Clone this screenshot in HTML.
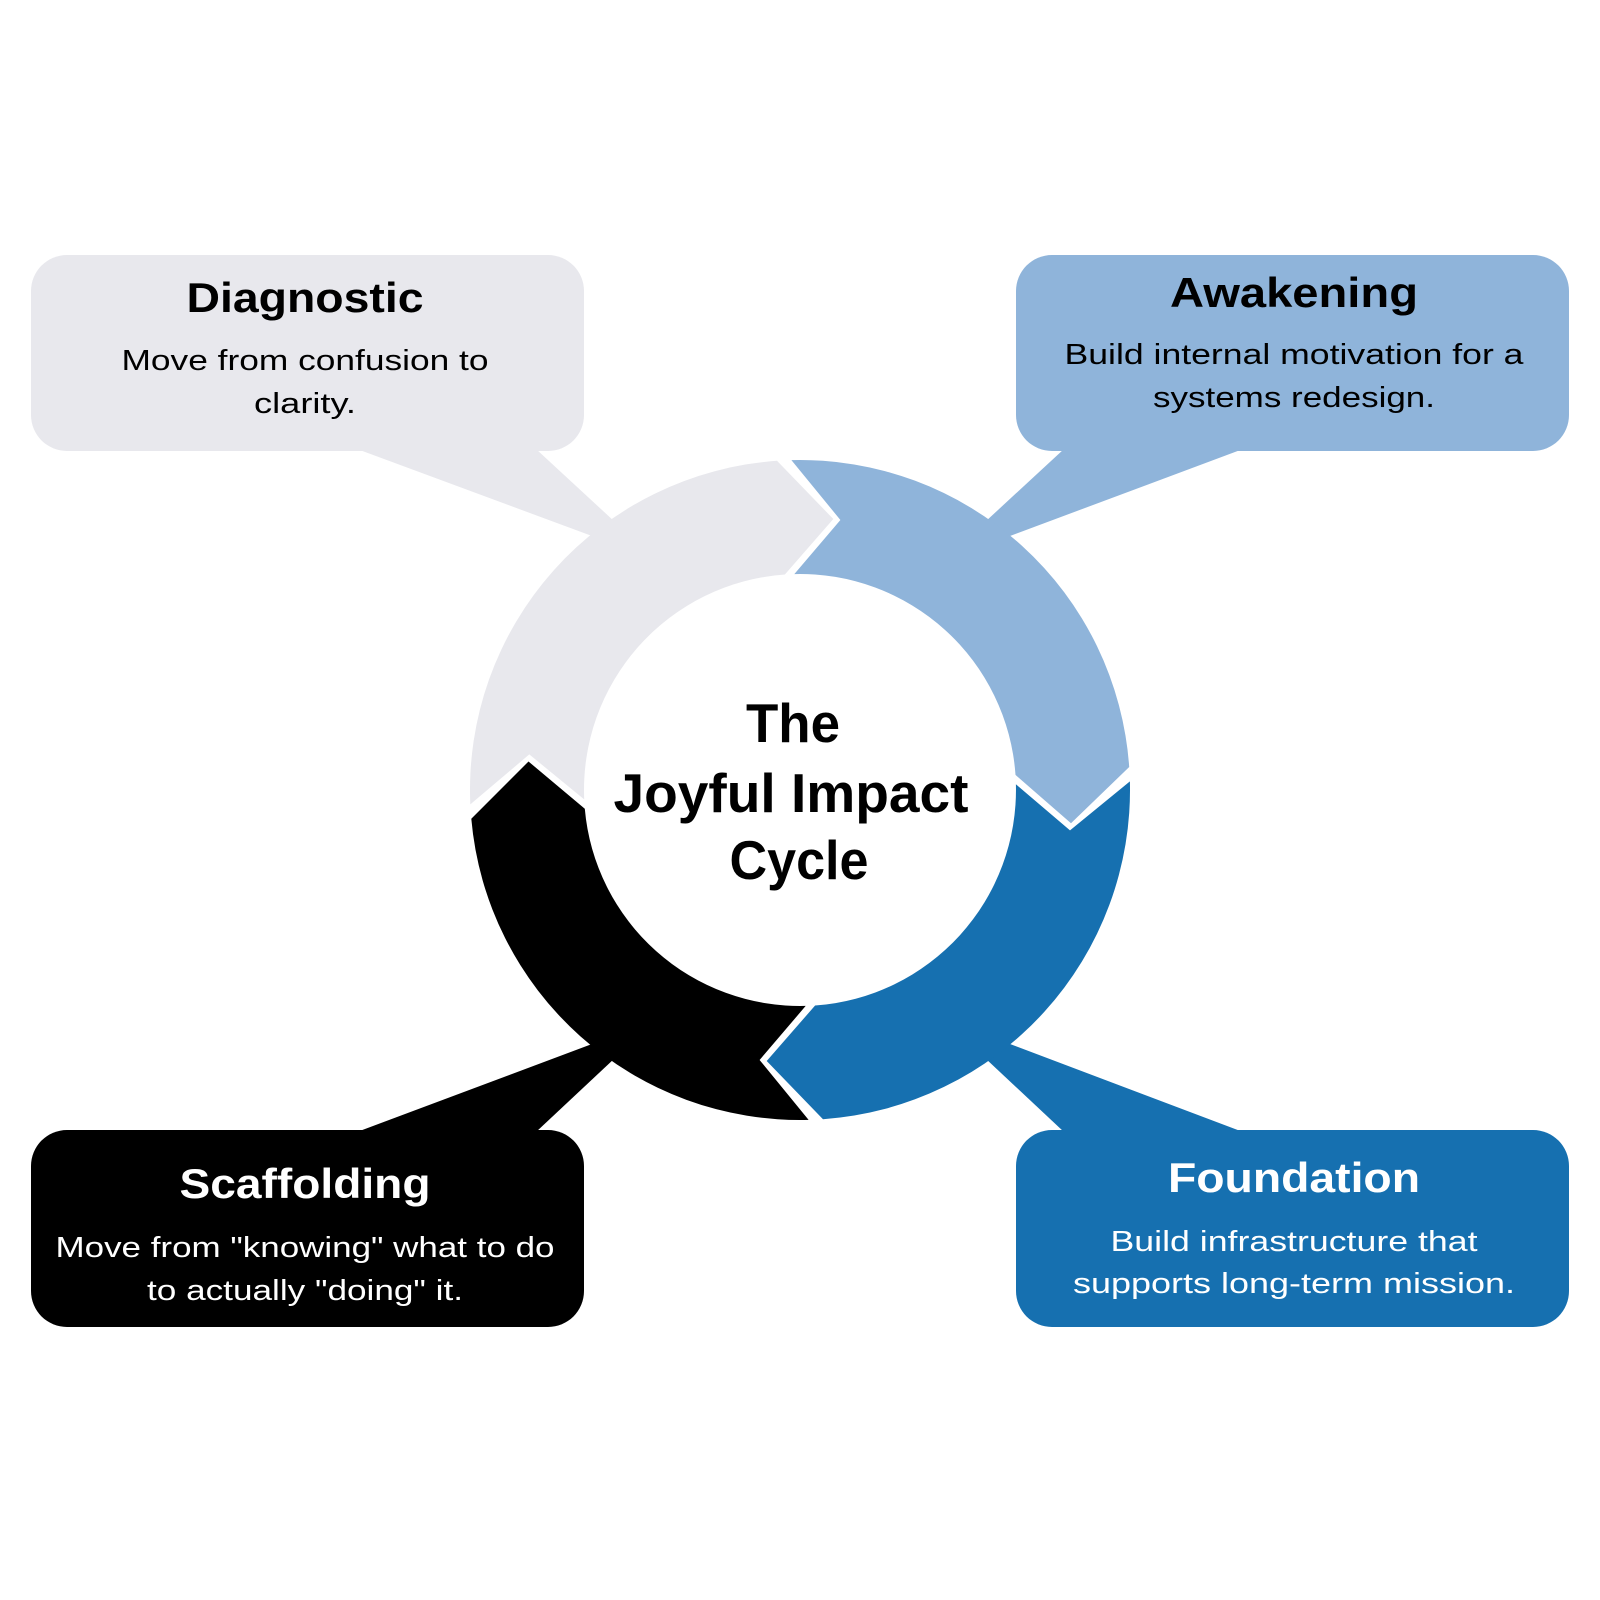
<!DOCTYPE html>
<html><head><meta charset="utf-8"><style>html,body{margin:0;padding:0;background:#fff}svg{display:block}</style></head><body>
<svg width="1600" height="1600" viewBox="0 0 1600 1600" xmlns="http://www.w3.org/2000/svg">
<rect width="1600" height="1600" fill="#fff"/>
<!-- boxes -->
<rect x="31" y="255" width="553" height="196" rx="36" fill="#e8e8ed"/>
<polygon points="357,449 536,449 615,522 592,536" fill="#e8e8ed"/>
<rect x="1016" y="255" width="553" height="196" rx="36" fill="#8fb4da"/>
<polygon points="1064,449 1243,449 1010,536 985,522" fill="#8fb4da"/>
<rect x="1016" y="1130" width="553" height="197" rx="36" fill="#1670b0"/>
<polygon points="1010,1044 985,1058 1064,1132 1243,1132" fill="#1670b0"/>
<rect x="31" y="1130" width="553" height="197" rx="36" fill="#000"/>
<polygon points="592,1044 615,1058 536,1132 357,1132" fill="#000"/>
<!-- ring -->
<path d="M470.3,804.4 A330,330 0 0 1 777.0,460.8 L833.3,519.0 L784.9,574.5 A216,216 0 0 0 584.2,799.4 L529.3,754.4 Z" fill="#e8e8ed"/>
<path d="M791.4,460.1 A330,330 0 0 1 1129.2,767.0 L1071.0,823.3 L1015.5,774.9 A216,216 0 0 0 794.3,574.1 L840.4,520.0 Z" fill="#8fb4da"/>
<path d="M1129.9,781.4 A330,330 0 0 1 823.0,1119.2 L766.7,1061.0 L815.1,1005.5 A216,216 0 0 0 1015.9,784.3 L1070.0,830.4 Z" fill="#1670b0"/>
<path d="M808.6,1119.9 A330,330 0 0 1 471.3,818.8 L528.5,761.5 L584.8,808.8 A216,216 0 0 0 805.7,1005.9 L759.6,1060.0 Z" fill="#000"/>
<g font-family="'Liberation Sans', sans-serif" text-anchor="middle" lengthAdjust="spacingAndGlyphs">
<text x="793" y="742" font-size="55" font-weight="bold" textLength="94" lengthAdjust="spacingAndGlyphs">The</text>
<text x="791" y="812" font-size="55" font-weight="bold" textLength="355" lengthAdjust="spacingAndGlyphs">Joyful Impact</text>
<text x="799" y="879" font-size="55" font-weight="bold" textLength="139" lengthAdjust="spacingAndGlyphs">Cycle</text>

<text x="305" y="312" font-size="42" font-weight="bold" textLength="237" lengthAdjust="spacingAndGlyphs">Diagnostic</text>
<text x="305" y="370" font-size="29" textLength="367" lengthAdjust="spacingAndGlyphs">Move from confusion to</text>
<text x="305" y="413" font-size="29" textLength="102" lengthAdjust="spacingAndGlyphs">clarity.</text>

<text x="1294" y="307" font-size="42" font-weight="bold" textLength="248" lengthAdjust="spacingAndGlyphs">Awakening</text>
<text x="1294" y="364" font-size="29" textLength="459" lengthAdjust="spacingAndGlyphs">Build internal motivation for a</text>
<text x="1294" y="407" font-size="29" textLength="282" lengthAdjust="spacingAndGlyphs">systems redesign.</text>

<text x="305" y="1198" font-size="42" font-weight="bold" fill="#fff" textLength="251" lengthAdjust="spacingAndGlyphs">Scaffolding</text>
<text x="305" y="1257" font-size="29" fill="#fff" textLength="499" lengthAdjust="spacingAndGlyphs">Move from "knowing" what to do</text>
<text x="305" y="1300" font-size="29" fill="#fff" textLength="316" lengthAdjust="spacingAndGlyphs">to actually "doing" it.</text>

<text x="1294" y="1192" font-size="42" font-weight="bold" fill="#fff" textLength="252" lengthAdjust="spacingAndGlyphs">Foundation</text>
<text x="1294" y="1251" font-size="29" fill="#fff" textLength="367" lengthAdjust="spacingAndGlyphs">Build infrastructure that</text>
<text x="1294" y="1293" font-size="29" fill="#fff" textLength="442" lengthAdjust="spacingAndGlyphs">supports long-term mission.</text>
</g>
</svg>
</body></html>
